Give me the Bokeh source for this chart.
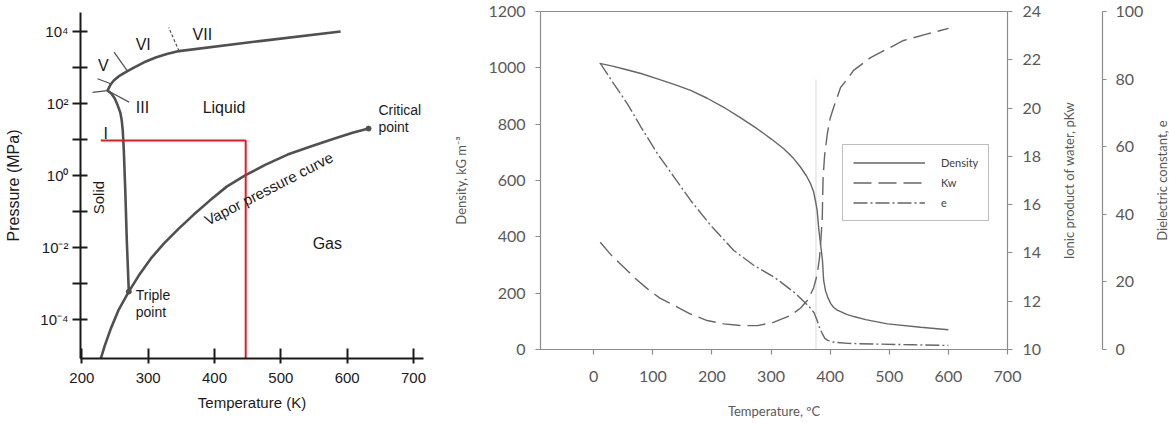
import math
from bokeh.plotting import figure
from bokeh.models import Range1d, LinearAxis, FixedTicker, Legend, LegendItem
from bokeh.layouts import row
from bokeh.embed import file_html
from bokeh.resources import INLINE
from bokeh.core.properties import value

# ===================== Left panel: phase diagram of water (T in K, P in MPa) =====================
melt_T = [270.8, 267.8, 265.5, 263.3, 261.7, 260.2, 258.0, 254.2, 249.7, 244.4, 238.7]
melt_P = [6.0e-4, 1.56e-2, 0.383, 4.94, 17.8, 33.7, 56.2, 87.9, 138.0, 190.0, 230.0]

high_T = [238.7, 242.9, 248.2, 257.2, 268.8, 281.3, 293.8, 311.4, 328.0, 346.5, 468.1, 590.1]
high_P = [230.0, 327.0, 436.0, 600.0, 800.0, 1067.0, 1403.0, 1897.0, 2371.0, 2871.0, 5445.0, 10000.0]

vap_T = [228.6, 234.6, 243.7, 255.7, 270.8, 285.8, 303.9, 323.5, 346.1, 368.7, 392.8, 418.4,
         445.5, 477.1, 510.2, 544.9, 581.0, 608.1, 632.2]
vap_P = [8.26e-6, 1.90e-5, 5.62e-5, 1.90e-4, 6.0e-4, 1.67e-3, 4.94e-3, 1.29e-2, 3.37e-2, 8.26e-2,
         0.202, 0.494, 1.0, 2.02, 3.83, 6.40, 10.7, 15.6, 20.2]

red_T = [228.6, 447.0, 447.0]
red_P = [9.5, 9.5, 8.3e-6]

# short phase-boundary strokes near the ice III / V / VI / VII junctions
b_vi_vii_T, b_vi_vii_P = [346.5, 331.0], [2871.0, 12900.0]
b_v_vi_T, b_v_vi_P = [268.8, 248.6], [800.0, 2690.0]
b_v_iii_T, b_v_iii_P = [243.7, 223.6], [355.0, 490.0]
b_i_iii_T, b_i_iii_P = [238.7, 216.1], [230.0, 204.0]
b_iii_T, b_iii_P = [238.7, 271.2], [230.0, 110.0]

points_T = [632.2, 270.8]          # critical point, triple point
points_P = [20.2, 6.0e-4]

region_labels = ["VII", "VI", "V", "III", "Liquid", "I", "Gas"]
region_T = [381.7, 292.6, 232.4, 291.4, 414.3, 236.1, 570.0]
region_P = [8320.0, 4370.0, 1150.0, 79.4, 79.4, 15.1, 0.0129]

note_labels = ["Critical", "point", "Triple", "point"]
note_T = [647.0, 647.0, 281.3, 281.3]
note_P = [64.6, 21.9, 4.7e-4, 1.58e-4]

solid_label, solid_T, solid_P = "Solid", 225.6, 0.245
vapor_label, vapor_T, vapor_P = "Vapor pressure curve", 481.6, 0.436

t_ticks = [200, 300, 400, 500, 600, 700]
p_ticks = [1e-4, 1e-3, 1e-2, 1e-1, 1.0, 10.0, 100.0, 1000.0, 10000.0]
p_tick_labels = ["10\u207b\u2074", "", "10\u207b\u00b2", "", "10\u2070", "", "10\u00b2", "", "10\u2074"]
p_tick_keys = ["0.0001", "0.001", "0.01", "0.1", "1", "10", "100", "1000", "10000"]

# ===================== Right panel: properties of water vs temperature (°C) =====================
dens_T = [10, 30, 51, 80, 108, 136, 164, 192, 220, 248, 277, 300, 322, 337, 350, 360, 367, 372, 375,
          378, 381, 384, 387, 389, 392, 396, 401, 406, 412, 429, 440, 460, 497, 553, 600]
dens = [1016, 1007, 996, 980, 961, 941, 920, 892, 860, 823, 783, 748, 712, 681, 647, 616, 588, 560, 529,
        494, 422, 370, 316, 245, 210, 185, 163, 149, 140, 124, 117, 106, 91, 79, 70]

kw_T = [11, 30, 51, 70, 91, 112, 136, 163, 192, 220, 249, 277, 305, 333, 350, 362, 372, 378, 382, 384.5,
        386.7, 387.2, 388.1, 390.6, 395.2, 399.9, 405.8, 417.6, 429.5, 439.6, 468.4, 524.2, 561.4, 600.3]
pkw = [14.44, 13.9, 13.41, 12.95, 12.51, 12.13, 11.82, 11.48, 11.2, 11.06, 10.99, 10.99, 11.13, 11.41,
       11.72, 12.05, 12.55, 13.1, 13.8, 14.6, 15.48, 16.17, 17.12, 18.04, 18.93, 19.57, 20.02, 20.85,
       21.22, 21.56, 22.09, 22.8, 23.05, 23.3]

e_T = [11, 34, 57, 80, 108, 136, 164, 200, 237, 270, 305, 316, 340, 359, 368, 373, 378, 383, 387, 391,
       396, 405, 430, 480, 540, 600]
eps = [84.7, 78.6, 72.7, 65.8, 57.9, 51.0, 44.1, 36.3, 29.3, 25.0, 21.4, 20.0, 16.8, 13.6, 12.0, 10.8,
       8.6, 6.0, 4.6, 3.3, 2.7, 2.2, 1.8, 1.6, 1.4, 1.2]

crit_T = [376, 376]
crit_D = [0, 958]

temp_ticks = [0, 100, 200, 300, 400, 500, 600, 700]
dens_ticks = [0, 200, 400, 600, 800, 1000, 1200]
pkw_ticks = [10, 12, 14, 16, 18, 20, 22, 24]
eps_ticks = [0, 20, 40, 60, 80, 100]


def no_align(p):
    if "frame_align" in p.properties():
        p.frame_align = False


# ----------------------------------------------------------------------------------------------
AX1 = "#1a1a1a"
CURVE1 = "#505050"
RED = "#e31b23"
F1 = "Liberation Sans"

p1 = figure(width=440, height=423, frame_width=343, frame_height=346, y_axis_type="log",
            x_range=Range1d(198, 715), y_range=Range1d(10 ** -5.08, 10 ** 4.53),
            output_backend="svg", toolbar_location=None,
            min_border_left=80, min_border_right=17, min_border_top=12, min_border_bottom=65)
no_align(p1)
p1.grid.visible = False
p1.outline_line_color = None
p1.background_fill_color = "white"
p1.border_fill_color = "white"

xa = p1.xaxis[0]
xa.ticker = FixedTicker(ticks=t_ticks)
xa.major_tick_in = 10
xa.major_tick_out = 5
xa.major_label_standoff = 9
xa.axis_label = "Temperature (K)"
xa.axis_label_standoff = 8

ya = p1.yaxis[0]
ya.ticker = FixedTicker(ticks=p_ticks)
overrides = {}
for t, k, lab in zip(p_ticks, p_tick_keys, p_tick_labels):
    overrides[t] = lab
    overrides[k] = lab
ya.major_label_overrides = overrides
ya.major_tick_in = 7
ya.major_tick_out = 8
ya.major_label_standoff = 4
ya.axis_label = "Pressure (MPa)"
ya.axis_label_standoff = 15

for ax in (xa, ya):
    ax.axis_line_color = AX1
    ax.axis_line_width = 2
    ax.major_tick_line_color = AX1
    ax.major_tick_line_width = 2
    ax.minor_tick_line_color = None
    ax.major_label_text_font = F1
    ax.major_label_text_font_size = "15px"
    ax.major_label_text_color = AX1
    ax.axis_label_text_font = F1
    ax.axis_label_text_font_size = "15px"
    ax.axis_label_text_font_style = "normal"
    ax.axis_label_text_color = AX1
ya.axis_label_text_font_size = "16px"

p1.line(melt_T, melt_P, line_color=CURVE1, line_width=2.6)
p1.line(high_T, high_P, line_color=CURVE1, line_width=2.6)
p1.line(vap_T, vap_P, line_color=CURVE1, line_width=2.6)
p1.line(b_vi_vii_T, b_vi_vii_P, line_color=CURVE1, line_width=1.2, line_dash="3 2")
for bt, bp in ((b_v_vi_T, b_v_vi_P), (b_v_iii_T, b_v_iii_P), (b_i_iii_T, b_i_iii_P), (b_iii_T, b_iii_P)):
    p1.line(bt, bp, line_color=CURVE1, line_width=1.2)
p1.line(red_T, red_P, line_color=RED, line_width=2)
p1.scatter(points_T, points_P, size=5, color=CURVE1)

p1.text(region_T, region_P, text=region_labels, text_font=value(F1), text_font_size="16px",
        text_color=AX1, text_align="center", text_baseline="middle")
p1.text(note_T, note_P, text=note_labels, text_font=value(F1), text_font_size="14px",
        text_color=AX1, text_align="left", text_baseline="middle")
p1.text([solid_T], [solid_P], text=[solid_label], angle=math.pi / 2, text_font=value(F1),
        text_font_size="15px", text_color=AX1, text_align="center", text_baseline="middle")
p1.text([vapor_T], [vapor_P], text=[vapor_label], angle=math.radians(27.3), text_font=value(F1),
        text_font_size="15px", text_color=AX1, text_align="center", text_baseline="middle")

# ----------------------------------------------------------------------------------------------
AXG = "#8c8c8c"
TXT = "#595959"
LINE2 = "#666666"
F2 = "Lato"


def style_axis(ax, tick_out=5):
    ax.axis_line_color = AXG
    ax.axis_line_width = 1.2
    ax.major_tick_line_color = AXG
    ax.major_tick_line_width = 1.2
    ax.minor_tick_line_color = None
    ax.major_tick_in = 0
    ax.major_tick_out = tick_out
    ax.major_label_text_font = F2
    ax.major_label_text_font_size = "16px"
    ax.major_label_text_color = TXT
    ax.axis_label_text_font = F2
    ax.axis_label_text_font_size = "13px"
    ax.axis_label_text_font_style = "normal"
    ax.axis_label_text_color = TXT


def title_only_axis(label, y_range_name, standoff):
    # a left axis that only carries a (bottom-to-top) title
    ax = LinearAxis(y_range_name=y_range_name, ticker=FixedTicker(ticks=[]), axis_label=label)
    style_axis(ax, tick_out=0)
    ax.axis_line_color = None
    ax.major_tick_line_color = None
    ax.major_label_standoff = 0
    ax.axis_label_standoff = standoff
    return ax


p2 = figure(width=607, height=423, frame_width=467, frame_height=338,
            x_range=Range1d(-90, 700), y_range=Range1d(0, 1200),
            output_backend="svg", toolbar_location=None,
            min_border_left=100, min_border_right=40, min_border_top=11, min_border_bottom=74)
no_align(p2)
p2.extra_y_ranges = {"kw": Range1d(10, 24), "e": Range1d(0, 100)}
p2.grid.visible = False
p2.outline_line_color = AXG
p2.outline_line_width = 1
p2.background_fill_color = "white"
p2.border_fill_color = "white"

bx = p2.xaxis[0]
bx.ticker = FixedTicker(ticks=temp_ticks)
bx.axis_label = "Temperature, \u00baC"
style_axis(bx)
bx.major_label_standoff = 16
bx.axis_label_standoff = 18

ly = p2.yaxis[0]
ly.ticker = FixedTicker(ticks=dens_ticks)
ly.axis_label = "Density, kG m\u207b\u00b3"
style_axis(ly)
ly.major_label_standoff = 10
ly.axis_label_standoff = 16

ax_kw = LinearAxis(y_range_name="kw", ticker=FixedTicker(ticks=pkw_ticks))
style_axis(ax_kw)
ax_kw.major_label_standoff = 10
p2.add_layout(ax_kw, "right")

p2.line(crit_T, crit_D, line_color="#d9d9d9", line_width=1)
r_d = p2.line(dens_T, dens, line_color=LINE2, line_width=1.4)
r_k = p2.line(kw_T, pkw, y_range_name="kw", line_color=LINE2, line_width=1.4, line_dash="18 7")
r_e = p2.line(e_T, eps, y_range_name="e", line_color=LINE2, line_width=1.4, line_dash="14 3 2 3")

legend = Legend(items=[LegendItem(label="Density", renderers=[r_d]),
                       LegendItem(label="Kw", renderers=[r_k]),
                       LegendItem(label="e", renderers=[r_e])],
                location=(302, 128))
legend.border_line_color = "#7f7f7f"
legend.border_line_width = 1
legend.background_fill_color = "white"
legend.background_fill_alpha = 1
legend.label_text_font = F2
legend.label_text_font_size = "11px"
legend.label_text_color = "#404040"
legend.glyph_width = 72
legend.glyph_height = 15
legend.label_height = 15
legend.spacing = 5
legend.padding = 10
legend.label_standoff = 16
legend.margin = 0
p2.add_layout(legend)

# ---- pKw axis title + dielectric-constant axis (a narrow strip sharing the same frame rows) ----
p3 = figure(width=95, height=423, frame_width=1, frame_height=338,
            x_range=Range1d(0, 1), y_range=Range1d(0, 100),
            x_axis_location=None, y_axis_location=None,
            output_backend="svg", toolbar_location=None,
            min_border_left=54, min_border_right=40, min_border_top=11, min_border_bottom=74)
no_align(p3)
p3.grid.visible = False
p3.outline_line_color = None
p3.background_fill_color = "white"
p3.border_fill_color = "white"
p3.add_layout(title_only_axis("Ionic product of water, pKw", "default", 25), "left")
ax_e = LinearAxis(ticker=FixedTicker(ticks=eps_ticks))
style_axis(ax_e, tick_out=4)
ax_e.major_label_standoff = 9
p3.add_layout(ax_e, "right")

# ---- dielectric-constant axis title ----
p4 = figure(width=26, height=423, frame_width=1, frame_height=338,
            x_range=Range1d(0, 1), y_range=Range1d(0, 100),
            x_axis_location=None, y_axis_location=None,
            output_backend="svg", toolbar_location=None,
            min_border_left=25, min_border_right=0, min_border_top=11, min_border_bottom=74)
no_align(p4)
p4.grid.visible = False
p4.outline_line_color = None
p4.background_fill_color = "white"
p4.border_fill_color = "white"
p4.add_layout(title_only_axis("Dielectric constant, e", "default", 2), "left")

layout = row(p1, p2, p3, p4)
open("out.html", "w").write(file_html(layout, INLINE))
